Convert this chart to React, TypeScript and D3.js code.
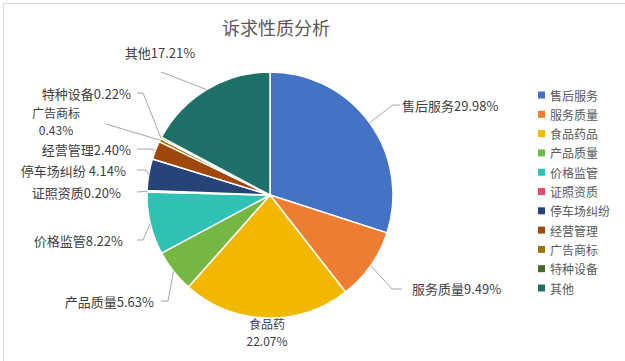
import React from "react";
import * as d3 from "d3";

const categories = ["售后服务", "服务质量", "食品药品", "产品质量", "价格监管", "证照资质", "停车场纠纷", "经营管理", "广告商标", "特种设备", "其他"];
const values = [29.98, 9.49, 22.07, 5.63, 8.22, 0.2, 4.14, 2.4, 0.43, 0.22, 17.21];
const labelLines = [
  ["售后服务29.98%"],
  ["服务质量9.49%"],
  ["食品药", "22.07%"],
  ["产品质量5.63%"],
  ["价格监管8.22%"],
  ["证照资质0.20%"],
  ["停车场纠纷 4.14%"],
  ["经营管理2.40%"],
  ["广告商标", "0.43%"],
  ["特种设备0.22%"],
  ["其他17.21%"],
];
const colors = ["#4472C4", "#ED7D31", "#F2B700", "#74B843", "#2EC1B4", "#E8486A", "#264478", "#9E480E", "#9C7700", "#43682B", "#1E7068"];
const title = "诉求性质分析";

// label layout: text position, anchor, leader elbow and tail (null = no leader)
const layout = [
  { x: 402, y: 105, anchor: "start", pts: [[393, 105], [400, 105]] },
  { x: 412, y: 288, anchor: "start", pts: [[392, 289], [402, 289]] },
  { x: 267, y: 323, anchor: "middle", pts: null },
  { x: 154, y: 301, anchor: "end", pts: [[168, 301], [161, 301]] },
  { x: 123, y: 240, anchor: "end", pts: [[143, 240], [137, 240]] },
  { x: 121, y: 192, anchor: "end", pts: [[137, 192]] },
  { x: 126, y: 170, anchor: "end", pts: [[146, 170], [137, 170]] },
  { x: 131, y: 149, anchor: "end", pts: [[150, 149], [137, 149]] },
  { x: 56, y: 112, anchor: "middle", pts: [[106, 124]] },
  { x: 131, y: 93, anchor: "end", pts: [[143, 93], [137, 93]] },
  { x: 160, y: 52, anchor: "middle", pts: [[161, 72]] },
];

const W = 625, H = 361;
const cx = 270, cy = 195, R = 123;
const font = "'Noto Sans CJK SC', 'Noto Sans', sans-serif";

export default function App() {
  const pie = d3.pie<number>().sort(null).value((d) => d).startAngle(0).endAngle(2 * Math.PI);
  const arcs = pie(values);
  const arc = d3.arc<d3.PieArcDatum<number>>().innerRadius(0).outerRadius(R);
  const legendY = d3.scalePoint<number>().domain(d3.range(categories.length)).range([95, 288]);

  return (
    <svg width={W} height={H} style={{ position: "absolute", left: 0, top: 0, background: "#fff" }} fontFamily={font}>
      <rect x={3.5} y={3.5} width={1000} height={1000} fill="#fff" stroke="#d9d9d9" strokeWidth={1} />
      <text x={276} y={27} textAnchor="middle" dominantBaseline="central" fontSize={18} fill="#595959">
        {title}
      </text>
      <g transform={`translate(${cx},${cy})`}>
        {arcs.map((a, i) => (
          <path key={i} d={arc(a) || ""} fill={colors[i]} stroke="#fff" strokeWidth={1.5} strokeLinejoin="round" />
        ))}
      </g>
      {arcs.map((a, i) => {
        const L = layout[i];
        const mid = (a.startAngle + a.endAngle) / 2;
        const p0 = [cx + R * Math.sin(mid), cy - R * Math.cos(mid)];
        const pts = L.pts ? [p0, ...L.pts] : null;
        const multi = labelLines[i].length > 1;
        return (
          <g key={i}>
            {pts && (
              <polyline points={pts.map((p) => p.join(",")).join(" ")} fill="none" stroke="#a6a6a6" strokeWidth={1} />
            )}
            {labelLines[i].map((t, j) => (
              <text
                key={j}
                x={L.x}
                y={L.y + j * 17}
                textAnchor={L.anchor}
                dominantBaseline="central"
                fontSize={multi ? 12 : 13}
                fill="#404040"
              >
                {t}
              </text>
            ))}
          </g>
        );
      })}
      {categories.map((c, i) => (
        <g key={c} transform={`translate(538,${legendY(i)})`}>
          <rect x={0} y={-3.5} width={7} height={7} fill={colors[i]} />
          <text x={12} y={0} dominantBaseline="central" fontSize={12} fill="#595959">
            {c}
          </text>
        </g>
      ))}
    </svg>
  );
}
